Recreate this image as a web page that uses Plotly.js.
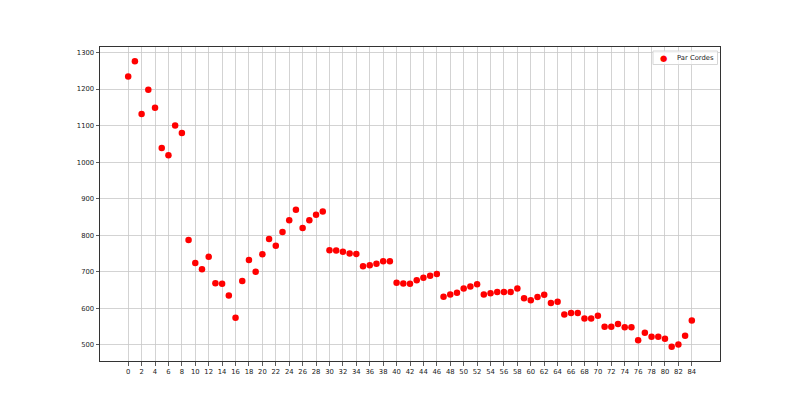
<!DOCTYPE html>
<html>
<head>
<meta charset="utf-8">
<script src="https://cdn.plot.ly/plotly-3.0.1.min.js"></script>
<style>html,body{margin:0;padding:0;background:#fff;}#chart{width:800px;height:406px;}</style>
</head>
<body>
<div id="chart"></div>
<script>
const xValues = Array.from({length: 85}, (_, i) => i);
const parCordes = [
  1234, 1276, 1132, 1198, 1149, 1039, 1019, 1100, 1080, 787,
  724, 707, 741, 669, 667, 635, 574, 675, 732, 700,
  748, 790, 771, 809, 841, 870, 820, 841, 856, 865,
  759, 758, 755, 750, 749, 715, 718, 722, 729, 729,
  670, 668, 667, 677, 684, 689, 694, 632, 638, 643,
  654, 660, 666, 638, 641, 645, 645, 645, 654, 628,
  622, 631, 637, 615, 618, 583, 587, 587, 572, 572,
  580, 550, 550, 557, 548, 548, 513, 533, 522, 522,
  517, 495, 501, 525, 567
];
const seriesName = "Par Cordes";
const xTicks = Array.from({length: 43}, (_, i) => i * 2);
const yTicks = [500, 600, 700, 800, 900, 1000, 1100, 1200, 1300];

const trace = {
  x: xValues,
  y: parCordes,
  mode: 'markers',
  type: 'scatter',
  name: seriesName,
  marker: {color: '#ff0000', size: 6.5}
};

const axisCommon = {
  showline: true, linecolor: '#333', linewidth: 1, mirror: true,
  ticks: 'outside', ticklen: 3.5, tickcolor: '#333', tickwidth: 0.8,
  showgrid: true, gridcolor: '#c8c8c8', gridwidth: 0.8,
  zeroline: false,
  tickfont: {family: 'DejaVu Sans', size: 6.8, color: '#222'}
};

// plot area: x 100..720, y 47..361
const px = v => (v - 100) / 620;
const py = v => (361 - v) / 314;

const layout = {
  width: 800, height: 406,
  margin: {l: 100, r: 80, t: 47, b: 45},
  paper_bgcolor: '#fff', plot_bgcolor: '#fff',
  showlegend: false,
  xaxis: Object.assign({}, axisCommon, {
    range: [-4.2, 88.2], tickmode: 'array', tickvals: xTicks, ticktext: xTicks.map(String)
  }),
  yaxis: Object.assign({}, axisCommon, {
    range: [456, 1315], tickmode: 'array', tickvals: yTicks, ticktext: yTicks.map(String)
  }),
  shapes: [{
    type: 'rect', xref: 'paper', yref: 'paper',
    x0: px(653), x1: px(717.5), y0: py(64.5), y1: py(51),
    line: {color: '#d6d6d6', width: 1}, fillcolor: 'rgba(255,255,255,0.8)', layer: 'above'
  }],
  annotations: [
    {xref: 'paper', yref: 'paper', x: px(663.3), y: py(58), xanchor: 'center', yanchor: 'middle',
     text: '●', showarrow: false, font: {family: 'DejaVu Sans', size: 8.5, color: '#ff0000'}},
    {xref: 'paper', yref: 'paper', x: px(675), y: py(58), xanchor: 'left', yanchor: 'middle',
     text: seriesName, showarrow: false, font: {family: 'DejaVu Sans', size: 6.8, color: '#222'}}
  ]
};

Plotly.newPlot('chart', [trace], layout, {displayModeBar: false, staticPlot: true});
</script>
</body>
</html>
